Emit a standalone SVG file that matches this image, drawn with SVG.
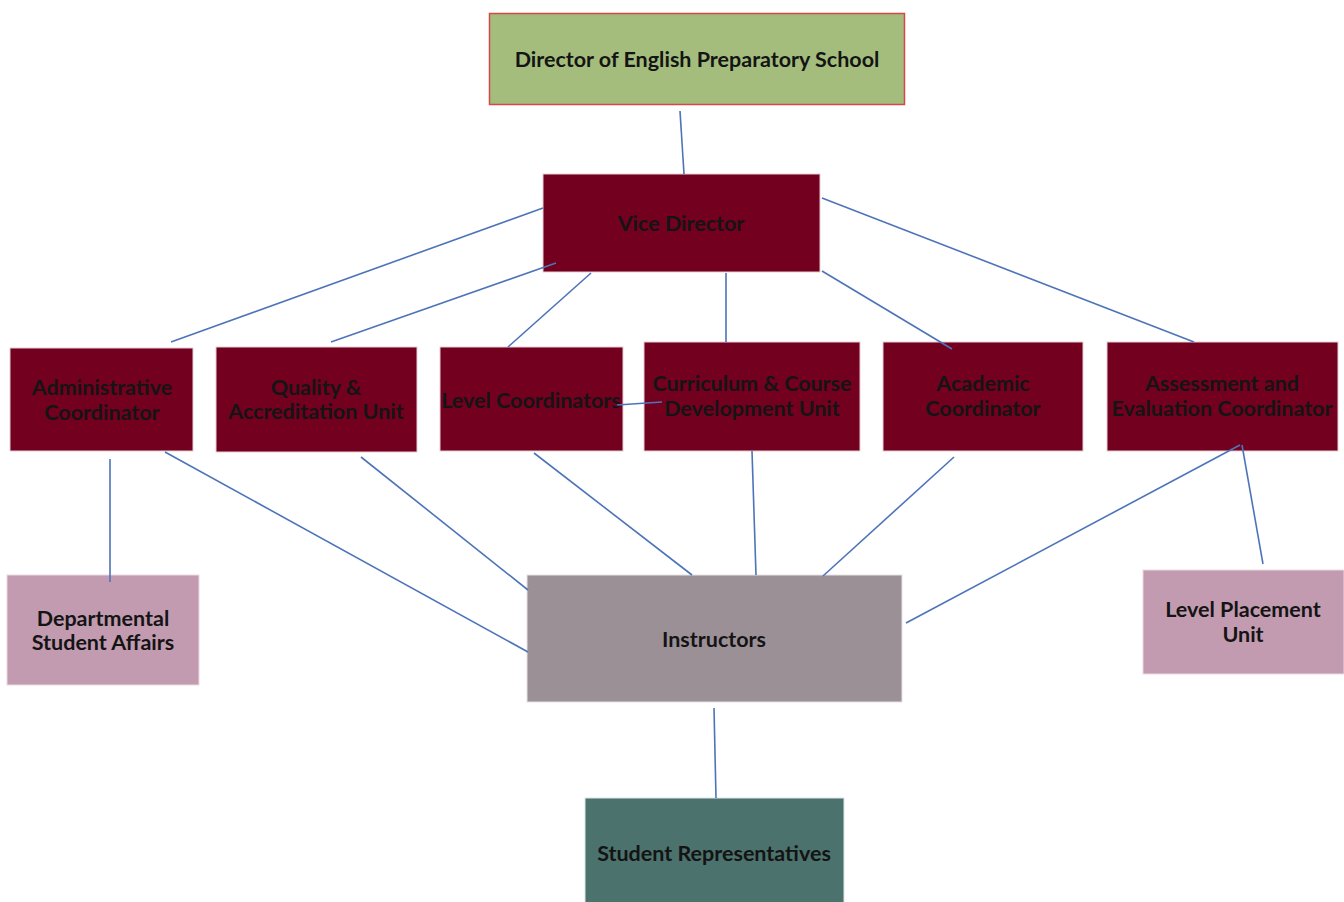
<svg xmlns="http://www.w3.org/2000/svg" width="1344" height="902" viewBox="0 0 1344 902">
<style>
.t{font-family:Lato,"Liberation Sans",sans-serif;font-weight:bold;font-size:21.5px;fill:#141414;text-anchor:middle}
.m{fill:#740020;stroke:#e3cdd3;stroke-width:1}
.p{fill:#c29bb0;stroke:#ead9e1;stroke-width:1}
.c line{stroke:#4d74b9;stroke-width:1.6}
</style>
<rect width="1344" height="902" fill="#fff"/>
<g id="director"><rect x="489.5" y="13.5" width="415" height="91" fill="#a4bd7c" stroke="#d24a48" stroke-width="1.5"/><text class="t" x="697" y="67">Director of English Preparatory School</text></g>
<g id="vice"><rect class="m" x="543" y="174" width="277" height="98"/><text class="t" x="681" y="231">Vice Director</text></g>
<g id="admin"><rect class="m" x="10" y="348" width="183" height="103"/><text class="t" x="102" y="395">Administrative</text><text class="t" x="102" y="420">Coordinator</text></g>
<g id="quality"><rect class="m" x="216" y="347" width="201" height="105"/><text class="t" x="316" y="395">Quality &amp;</text><text class="t" x="316" y="419">Accreditation Unit</text></g>
<g id="level"><rect class="m" x="440" y="347" width="183" height="104"/><text class="t" x="531" y="408">Level Coordinators</text></g>
<g id="curriculum"><rect class="m" x="644" y="342" width="216" height="109"/><text class="t" x="752" y="391">Curriculum &amp; Course</text><text class="t" x="752" y="416">Development Unit</text></g>
<g id="academic"><rect class="m" x="883" y="342" width="200" height="109"/><text class="t" x="983" y="391">Academic</text><text class="t" x="983" y="416">Coordinator</text></g>
<g id="assessment"><rect class="m" x="1107" y="342" width="231" height="109"/><text class="t" x="1222" y="391">Assessment and</text><text class="t" x="1222" y="416">Evaluation Coordinator</text></g>
<g id="departmental"><rect class="p" x="7" y="575" width="192" height="110"/><text class="t" x="103" y="626">Departmental</text><text class="t" x="103" y="650">Student Affairs</text></g>
<g id="placement"><rect class="p" x="1143" y="570" width="201" height="104"/><text class="t" x="1243" y="617">Level Placement</text><text class="t" x="1243" y="642">Unit</text></g>
<g id="instructors"><rect x="527" y="575" width="375" height="127" fill="#9c9097" stroke="#e6e1e4" stroke-width="1"/><text class="t" x="714" y="647">Instructors</text></g>
<g id="students"><rect x="585" y="798" width="259" height="110" fill="#4b726d" stroke="#dde6e5" stroke-width="1"/><text class="t" x="714" y="861">Student Representatives</text></g>
<g class="c" id="connectors">
<line x1="680" y1="111" x2="684" y2="174"/>
<line x1="543" y1="208" x2="171" y2="342"/>
<line x1="556" y1="263" x2="331" y2="342"/>
<line x1="591" y1="273" x2="508" y2="347"/>
<line x1="726" y1="273" x2="726" y2="342"/>
<line x1="822" y1="271" x2="952" y2="349"/>
<line x1="822" y1="198" x2="1194" y2="342"/>
<line x1="617" y1="405" x2="662" y2="402"/>
<line x1="110" y1="459" x2="110" y2="582"/>
<line x1="165" y1="452" x2="528" y2="652"/>
<line x1="361" y1="457" x2="528" y2="590"/>
<line x1="534" y1="453" x2="692" y2="575"/>
<line x1="752" y1="451" x2="756" y2="575"/>
<line x1="954" y1="457" x2="823" y2="576"/>
<line x1="1240" y1="445" x2="906" y2="623"/>
<line x1="1242" y1="445" x2="1263" y2="564"/>
<line x1="714" y1="708" x2="716" y2="798"/>
</g>
</svg>
